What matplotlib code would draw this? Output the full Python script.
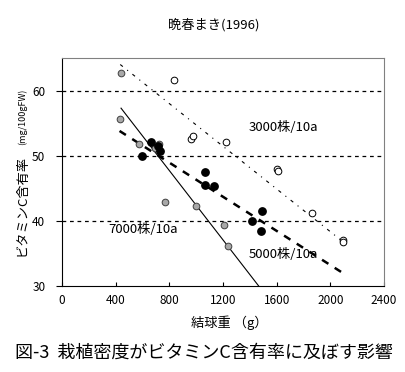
import matplotlib
matplotlib.use("Agg")
import matplotlib.pyplot as plt

plt.rcParams['font.family'] = ['Noto Sans CJK JP', 'DejaVu Sans']

# 3000株/10a (open circles)
x3000 = [832, 960, 975, 1226, 1600, 1612, 1864, 2091, 2098]
y3000 = [61.6, 52.6, 53.0, 52.1, 48.0, 47.7, 41.2, 37.0, 36.7]
# 5000株/10a (black)
x5000 = [593, 663, 715, 728, 1067, 1064, 1131, 1413, 1490, 1480]
y5000 = [49.9, 52.1, 51.5, 50.8, 47.5, 45.5, 45.4, 40.0, 41.5, 38.5]
# 7000株/10a (gray)
x7000 = [440, 430, 571, 690, 725, 770, 997, 1206, 1236]
y7000 = [62.7, 55.7, 51.8, 51.2, 51.8, 42.9, 42.3, 39.4, 36.1]

# regression line ends
fit3000_x = [434, 2100]
fit3000_y = [64.0, 36.7]
fit5000_x = [429, 2108]
fit5000_y = [53.8, 31.8]
fit7000_x = [440, 1466]
fit7000_y = [57.3, 30.0]

xticks = [0, 400, 800, 1200, 1600, 2000, 2400]
yticks = [30, 40, 50, 60]

fig = plt.figure(figsize=(4.06, 3.72), dpi=100)
ax = fig.add_axes([62/406, 1-286/372, 322/406, 228/372])

for yv in [40, 50, 60]:
    ax.axhline(yv, color='black', lw=0.9, linestyle=(0, (3, 3)), zorder=1)

ax.plot(fit7000_x, fit7000_y, color='black', lw=0.8, zorder=2)
ax.plot(fit5000_x, fit5000_y, color='black', lw=1.8, linestyle=(0, (3, 3)), zorder=2)
ax.plot(fit3000_x, fit3000_y, color='black', lw=0.8, linestyle=(0, (3, 5, 1, 5)), zorder=2)

ax.plot(x7000, y7000, 'o', ms=4.8, mfc='#a8a8a8', mec='#404040', mew=0.7, zorder=3)
ax.plot(x5000, y5000, 'o', ms=5.3, mfc='black', mec='black', zorder=3)
ax.plot(x3000, y3000, 'o', ms=4.8, mfc='white', mec='black', mew=0.7, zorder=3)

ax.text(1390, 54.3, '3000株/10a', fontsize=9.5, va='center', ha='left')
ax.text(344, 38.6, '7000株/10a', fontsize=9.5, va='center', ha='left')
ax.text(1390, 34.9, '5000株/10a', fontsize=9.5, va='center', ha='left')

ax.set_xlim(0, 2400)
ax.set_ylim(30, 65)
ax.set_xticks(xticks)
ax.set_yticks(yticks)
ax.tick_params(axis='x', direction='in', length=3, labelsize=8.5, pad=6)
ax.tick_params(axis='y', direction='out', length=4, labelsize=8.5, pad=8)
for s in ['top', 'right']:
    ax.spines[s].set_color('#808080')
for s in ['left', 'bottom']:
    ax.spines[s].set_color('black')

fig.text(214/406, 1-25/372, '晩春まき(1996)', fontsize=9.5, ha='center', va='center')
fig.text(229/406, 1-323/372, '結球重 （g）', fontsize=9.5, ha='center', va='center')
fig.text(22/406, 1-205/372, 'ビタミンC含有率', fontsize=9.5, rotation=90, ha='center', va='center')
fig.text(22/406, 1-117/372, '(mg/100gFW)', fontsize=6.5, rotation=90, ha='center', va='center')
fig.text(204/406, 1-353/372, '図-3  栽植密度がビタミンC含有率に及ぼす影響', fontsize=13, ha='center', va='center')

fig.savefig('out.png', dpi=100)
